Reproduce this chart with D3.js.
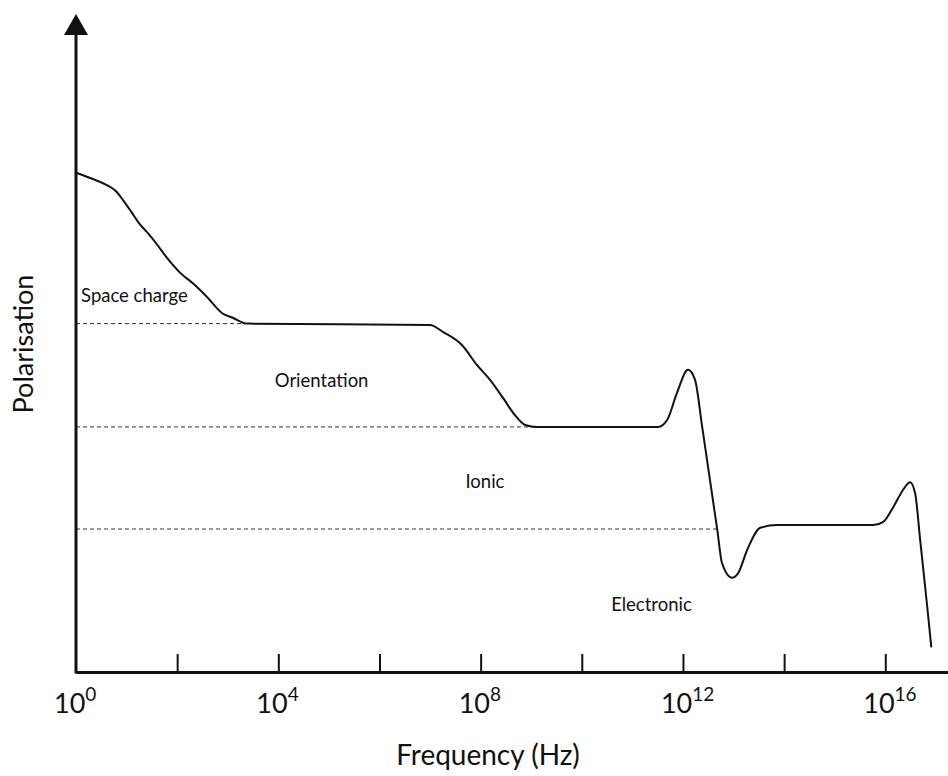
<!DOCTYPE html>
<html>
<head>
<meta charset="utf-8">
<script src="https://cdn.jsdelivr.net/npm/d3@7"></script>
<style>
  body { margin: 0; background: #fff; }
  svg { display: block; }
  text { font-family: Lato, "Open Sans", sans-serif; fill: #111; }
</style>
</head>
<body>
<svg id="chart" width="948" height="776"></svg>
<script>
// log10 of frequency (Hz) and polarisation (arbitrary units)
const logFreq = [0, 0.28, 0.53, 0.81, 0.93, 1.11, 1.24, 1.40, 1.58, 1.80, 2.06, 2.31, 2.59, 2.89, 3.10, 3.38,
  7.0, 7.26, 7.63, 7.93, 8.19, 8.44, 8.68, 8.88, 9.12,
  11.51, 11.69, 11.88, 12.10, 12.24, 12.38, 12.68, 12.77, 12.97, 13.09, 13.27, 13.53, 13.86,
  15.76, 15.96, 16.16, 16.35, 16.49, 16.59, 16.69, 16.83, 16.91];
const polarisation = [76.8, 76.0, 75.2, 73.8, 72.6, 70.6, 69.1, 67.7, 66.0, 63.7, 61.4, 59.8, 57.7, 55.2, 54.5, 53.6,
  53.4, 52.3, 50.3, 47.2, 44.9, 42.2, 39.5, 38.0, 37.7,
  37.7, 38.8, 42.9, 46.5, 44.9, 37.7, 21.8, 16.8, 14.5, 15.2, 18.8, 22.2, 22.6,
  22.6, 23.1, 25.4, 28.0, 29.2, 27.5, 20.3, 10.0, 3.8];

// mechanism levels (dashed guides) and where they meet the curve
const levelNames = ["Space charge", "Ionic", "Electronic"];
const levelValues = [53.6, 37.7, 22.0];
const levelEnds = [3.38, 9.12, 12.68];

// region labels: log f of left edge, polarisation of baseline
const regionNames = ["Space charge", "Orientation", "Ionic", "Electronic"];
const regionLogF = [0.1, 3.93, 7.7, 10.58];
const regionPol = [56.9, 43.8, 28.3, 9.4];

const tickValues = [2, 4, 6, 8, 10, 12, 14, 16];
const labelExponents = [0, 4, 8, 12, 16];

const svg = d3.select("#chart");
const x = d3.scaleLinear().domain([0, 17.24]).range([76, 948]);
const y = d3.scaleLinear().domain([0, 100]).range([672, 22]);

// guides
svg.append("g").selectAll("line")
  .data(levelValues)
  .join("line")
  .attr("x1", x(0))
  .attr("x2", (d, i) => x(levelEnds[i]))
  .attr("y1", d => y(d))
  .attr("y2", d => y(d))
  .attr("stroke", "#333")
  .attr("stroke-width", 1)
  .attr("stroke-dasharray", "4,3");

// x axis, ticks point up
const xAxis = d3.axisBottom(x).tickValues(tickValues).tickSizeInner(-18).tickSizeOuter(0).tickFormat("");
const gx = svg.append("g").attr("transform", "translate(0," + y(0) + ")").call(xAxis);
gx.select(".domain").attr("stroke", "#111").attr("stroke-width", 3);
gx.selectAll(".tick line").attr("stroke", "#111").attr("stroke-width", 2);

// tick labels 10^n
const lab = svg.append("g").selectAll("text")
  .data(labelExponents)
  .join("text")
  .attr("x", d => x(d) - 22)
  .attr("y", 713)
  .style("font-size", "27px");
lab.append("tspan").text("10");
lab.append("tspan").attr("dy", -12).style("font-size", "19px").text(d => d);

// y axis with arrow
svg.append("line")
  .attr("x1", x(0)).attr("x2", x(0))
  .attr("y1", y(0) + 1.5).attr("y2", 32)
  .attr("stroke", "#111").attr("stroke-width", 3);
svg.append("path")
  .attr("d", d3.line()([[x(0), 14], [x(0) - 12, 35], [x(0) + 12, 35]]) + "Z")
  .attr("fill", "#111");

// polarisation curve
const pts = logFreq.map((d, i) => [d, polarisation[i]]);
svg.append("path")
  .datum(pts)
  .attr("fill", "none")
  .attr("stroke", "#111")
  .attr("stroke-width", 2)
  .attr("stroke-linejoin", "round")
  .attr("d", d3.line().x(d => x(d[0])).y(d => y(d[1])).curve(d3.curveMonotoneX));

// region labels
svg.append("g").selectAll("text")
  .data(regionNames)
  .join("text")
  .attr("x", (d, i) => x(regionLogF[i]))
  .attr("y", (d, i) => y(regionPol[i]))
  .style("font-size", "18.5px")
  .text(d => d);

// axis titles
svg.append("text")
  .attr("x", 488).attr("y", 765)
  .attr("text-anchor", "middle")
  .style("font-size", "28px")
  .text("Frequency (Hz)");
svg.append("text")
  .attr("transform", "translate(33,344) rotate(-90)")
  .attr("text-anchor", "middle")
  .style("font-size", "27px")
  .text("Polarisation");
</script>
</body>
</html>
